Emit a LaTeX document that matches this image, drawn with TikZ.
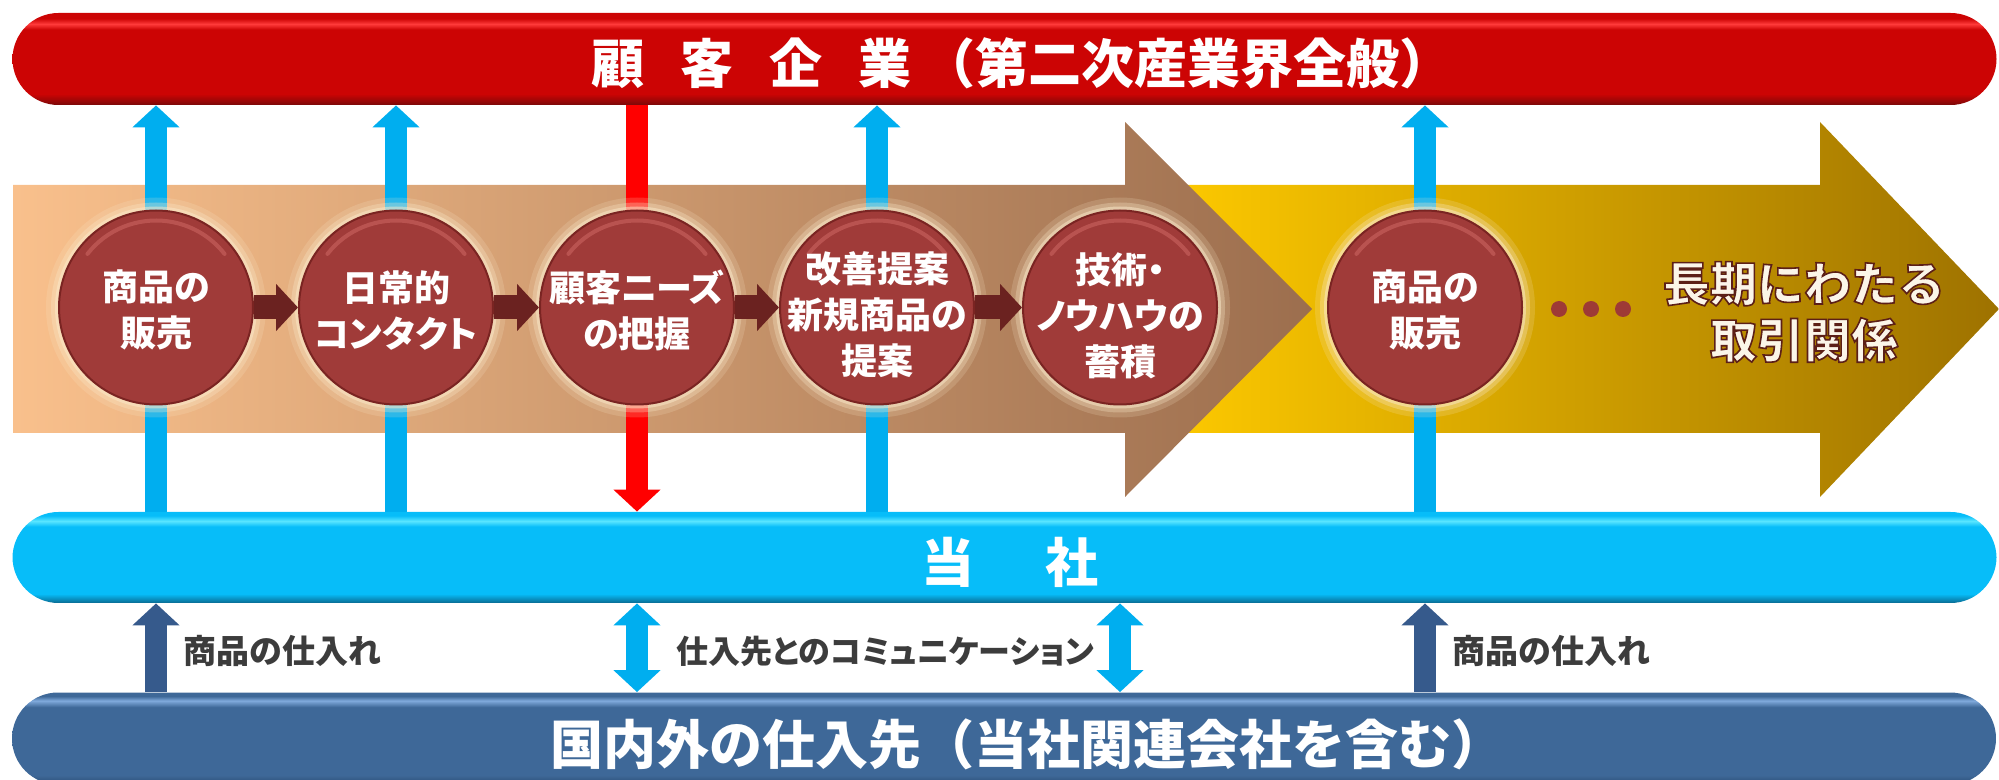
\documentclass[tikz,border=0pt]{standalone}
\usepackage{fontspec}
\setmainfont{Noto Sans CJK JP}
\newfontfamily\jpp{Noto Sans CJK JP}[CharacterWidth=AlternateProportional]
\usetikzlibrary{arrows.meta}
\pgfdeclarelayer{bg}
\pgfdeclarelayer{mid}
\pgfsetlayers{bg,mid,main}
\definecolor{rM}{HTML}{CC0404}
\definecolor{rH}{HTML}{FF3A3A}
\definecolor{rD}{HTML}{7A0808}
\definecolor{bM}{HTML}{07BDF9}
\definecolor{bH}{HTML}{5AE6FF}
\definecolor{bD}{HTML}{0A6A90}
\definecolor{nM}{HTML}{3E6898}
\definecolor{nH}{HTML}{80AADC}
\definecolor{nD}{HTML}{2B4C74}
\definecolor{aOneL}{HTML}{F9C08C}
\definecolor{aOneR}{HTML}{9C6E4E}
\definecolor{aTwoL}{HTML}{FFCB00}
\definecolor{aTwoR}{HTML}{9E7200}
\definecolor{cM}{HTML}{A03B39}
\definecolor{cE}{HTML}{7A2422}
\definecolor{cHL}{HTML}{D9726E}
\definecolor{glowc}{HTML}{FBEACB}
\definecolor{linkc}{HTML}{6B2220}
\definecolor{cyanarr}{HTML}{00AEEF}
\definecolor{navyarr}{HTML}{365A8C}
\definecolor{redarr}{HTML}{FF0000}
\definecolor{labc}{HTML}{3C3C3C}
\definecolor{dotc}{HTML}{9E3A36}
\definecolor{ltfill}{HTML}{FBF5E8}
\pgfdeclareverticalshading{redsh}{100bp}{color(0bp)=(rD); color(25bp)=(rD); color(31bp)=(rM); color(66bp)=(rM); color(69bp)=(rH); color(72bp)=(rM); color(75bp)=(rM); color(100bp)=(rM)}
\pgfdeclareverticalshading{cyansh}{100bp}{color(0bp)=(bD); color(25bp)=(bD); color(30bp)=(bM); color(67bp)=(bM); color(70bp)=(bH); color(73bp)=(bM); color(75bp)=(bM); color(100bp)=(bM)}
\pgfdeclareverticalshading{navysh}{100bp}{color(0bp)=(nD); color(25bp)=(nD); color(30bp)=(nM); color(67bp)=(nM); color(70.5bp)=(nH); color(73bp)=(nM); color(75bp)=(nM); color(100bp)=(nM)}
\newcommand{\olon}{\special{pdf:literal direct 2 Tr 0.8 w 0.36 0.12 0.09 RG}}
\newcommand{\oloff}{\special{pdf:literal direct 0 Tr}}
\begin{document}
\begin{tikzpicture}[x=0.5pt,y=-0.5pt,
  barshape/.style={rectangle, rounded corners=23pt, minimum width=992pt, minimum height=46pt, inner sep=0pt},
  redbarsty/.style={barshape, shading=redsh},
  cyanbarsty/.style={barshape, minimum height=45.5pt, shading=cyansh},
  navybarsty/.style={barshape, shading=navysh},
  bartext/.style={inner sep=0pt, text=white, font=\bfseries\fontsize{26.5pt}{30pt}\selectfont},
  circsty/.style={circle, minimum size=97pt, inner sep=0pt, fill=cM, draw=cE, line width=1pt},
  ctext/.style={inner sep=0pt, text=white, align=center, font=\jpp\bfseries\fontsize{18pt}{23pt}\selectfont},
  hlsty/.style={draw=cHL, line width=2pt, opacity=.45, line cap=round},
  linksty/.style={draw=linkc, line width=12pt, -{Triangle[length=11pt,width=23pt]}},
  uparr/.style={draw=cyanarr, line width=11pt, -{Triangle[length=11pt,width=23pt]}},
  downarr/.style={draw=redarr, line width=11pt, -{Triangle[length=11pt,width=23pt]}},
  navyup/.style={draw=navyarr, line width=11pt, -{Triangle[length=11pt,width=23pt]}},
  bothcyan/.style={draw=cyanarr, line width=11pt, {Triangle[length=11pt,width=23pt]}-{Triangle[length=11pt,width=23pt]}},
  labsty/.style={anchor=west, inner sep=0pt, text=labc, font=\bfseries\fontsize{16.5pt}{20pt}\selectfont},
  lablsty/.style={labsty, font=\jpp\bfseries\fontsize{16pt}{20pt}\selectfont},
  ltsty/.style={inner sep=0pt, align=center, text=ltfill, font=\bfseries\fontsize{23.5pt}{28.25pt}\selectfont}
]
\useasboundingbox (0,0) rectangle (1999,780);
\clip (0,0) rectangle (1999,780);

% bars
\node[redbarsty] (redbar) at (1004.5,59) {};
\node[cyanbarsty] (cyanbar) at (1004.5,557.5) {};
\node[navybarsty] (navybar) at (1004,738.5) {};
\node[bartext] (redtxt) at (1022,63) {顧\hspace{0.68em}客\hspace{0.68em}企\hspace{0.68em}業\hspace{0.2em}（第二次産業界全般）};
\node[bartext] (cyantxt) at (1010,562) {当\hspace{1.34em}社};
\node[bartext] (navytxt) at (1027,744) {国内外の仕入先（当社関連会社を含む）};

% big arrows
\begin{pgfonlayer}{bg}
\shade[left color=aTwoL, right color=aTwoR] (1150,185) -- (1820,185) -- (1820,122) -- (1999,309) -- (1820,497) -- (1820,433) -- (1150,433) -- cycle;
\shade[left color=aOneL, right color=aOneR] (13,185) -- (1125,185) -- (1125,122) -- (1312,309) -- (1125,497) -- (1125,433) -- (13,433) -- cycle;
\end{pgfonlayer}

% circles
\foreach \i/\x in {1/156,2/396,3/637,4/877,5/1120,6/1425}{
  \coordinate (p\i) at (\x,307.5);
  \fill[glowc, opacity=.18] (p\i) circle (110);
  \fill[glowc, opacity=.3] (p\i) circle (105);
  \fill[glowc, opacity=.5] (p\i) circle (101);
  \node[circsty] (c\i) at (p\i) {};
  \draw[hlsty] ([shift={(218:87)}]p\i) arc[start angle=218, end angle=322, radius=87];
}
\node[ctext] (t1) at ([yshift=-1.25pt]c1.center) {商品の\\販売};
\node[ctext] (t2) at ([yshift=-1.25pt]c2.center) {日常的\\コンタクト};
\node[ctext] (t3) at ([yshift=-1.25pt]c3.center) {顧客ニーズ\\の把握};
\node[ctext] (t4) at ([yshift=-3.75pt]c4.center) {改善提案\\新規商品の\\提案};
\node[ctext] (t5) at ([yshift=-4.25pt]c5.center) {技術・\\ノウハウの\\蓄積};
\node[ctext] (t6) at ([yshift=-1.25pt]c6.center) {商品の\\販売};

% links between circles
\draw[linksty] (c1) -- (c2);
\draw[linksty] (c2) -- (c3);
\draw[linksty] (c3) -- (c4);
\draw[linksty] (c4) -- (c5);

% vertical arrows
\begin{pgfonlayer}{mid}
\draw[uparr] (c1 |- cyanbar.north) -- (c1 |- redbar.south);
\draw[uparr] (c2 |- cyanbar.north) -- (c2 |- redbar.south);
\draw[uparr] (c4 |- cyanbar.north) -- (c4 |- redbar.south);
\draw[uparr] (c6 |- cyanbar.north) -- (c6 |- redbar.south);
\draw[downarr] (c3 |- redbar.south) -- (c3 |- cyanbar.north);
\end{pgfonlayer}
\draw[navyup] (c1 |- navybar.north) -- (c1 |- cyanbar.south);
\draw[navyup] (c6 |- navybar.north) -- (c6 |- cyanbar.south);
\draw[bothcyan] (c3 |- navybar.north) -- (c3 |- cyanbar.south);
\draw[bothcyan] (c5 |- navybar.north) -- (c5 |- cyanbar.south);

% labels
\node[labsty] (lab1) at (183,651) {商品の仕入れ};
\node[lablsty] (lab2) at (676,651) {仕入先とのコミュニケーション};
\node[labsty] (lab3) at (1452,651) {商品の仕入れ};

% dots
\fill[dotc] (1559,309) circle (8);
\fill[dotc] (1591,309) circle (8);
\fill[dotc] (1623,309) circle (8);

% long-term text
\node[ltsty] (lt) at (1804,312) {\olon 長期にわたる\oloff\\\olon 取引関係\oloff};
\end{tikzpicture}
\end{document}
